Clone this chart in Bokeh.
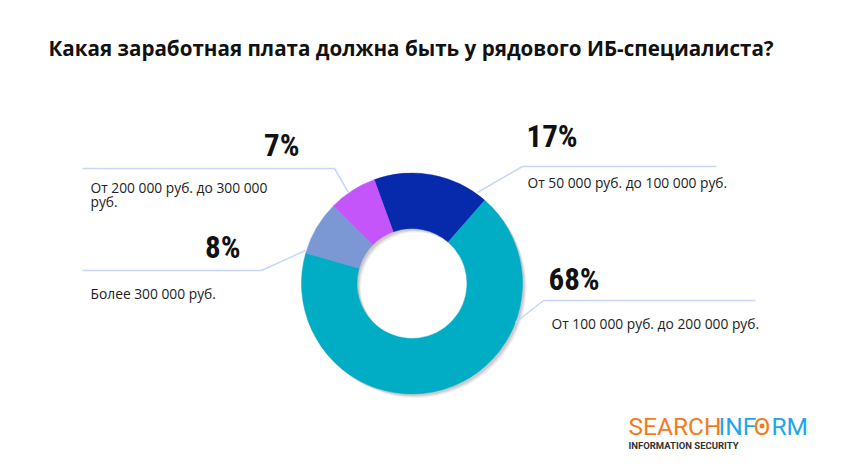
import numpy as np
from bokeh.models import ColumnDataSource, Label, Range1d
from bokeh.plotting import figure
from bokeh.embed import file_html
from bokeh.resources import INLINE

# survey data
categories = [
    "От 50 000 руб. до 100 000 руб.",
    "От 100 000 руб. до 200 000 руб.",
    "Более 300 000 руб.",
    "От 200 000 руб. до 300 000 руб.",
]
shares = [17, 68, 8, 7]
pct_labels = ["17%", "68%", "8%", "7%"]
colors = ["#0729ab", "#00adc4", "#7b97d4", "#c455fb"]

W, H = 845, 470


def py(y):
    # pixel row from the top -> data y
    return H - y


# wedge angles, clockwise from 110 degrees
ends = 110 - np.cumsum(shares) * 3.6
starts = ends + np.array(shares) * 3.6
src = ColumnDataSource(data=dict(
    category=categories,
    share=shares,
    start=np.radians(starts),
    end=np.radians(ends),
    color=colors,
))

p = figure(width=W, height=H, x_range=Range1d(0, W), y_range=Range1d(0, H),
           toolbar_location=None, output_backend="svg", min_border=0,
           x_axis_location=None, y_axis_location=None)
p.grid.visible = False
p.outline_line_color = None
p.background_fill_color = "white"

cx, cy = 411.5, py(283)
r_in, r_out = 55, 110.5

# soft drop shadow
for off, a in [(4, 0.05), (3, 0.07), (2, 0.09)]:
    p.annulus(x=cx + off, y=cy - off, inner_radius=r_in, outer_radius=r_out,
              fill_color="black", fill_alpha=a, line_color=None)

p.annular_wedge(x=cx, y=cy, inner_radius=r_in, outer_radius=r_out,
                start_angle="start", end_angle="end", direction="clock",
                fill_color="color", line_color="color", line_width=0.5, source=src)

# leader lines
line_col = "#c8d6f8"
leaders = [
    ([477, 522, 716], [192, 166, 166]),
    ([515, 543, 755], [322, 300, 300]),
    ([305, 261, 82], [250, 270, 270]),
    ([348, 334, 82], [192, 168, 168]),
]
for xs, ys in leaders:
    p.line(xs, [py(y) for y in ys], line_color=line_col, line_width=1.5)

pct_font = "Roboto Condensed, DejaVu Sans Condensed, Roboto"
pct_pos = [(526, 135.5, "left"), (548, 278.5, "left"), (240, 247, "right"), (299, 144.5, "right")]
for lab, (x, y, al) in zip(pct_labels, pct_pos):
    p.add_layout(Label(x=x, y=py(y), text=lab, text_font=pct_font, text_font_style="bold",
                       text_font_size="31px", text_color="#111111", text_align=al,
                       text_baseline="middle"))

cat_font = "Open Sans"
cat_lines = [
    (categories[0], 527, 182),
    (categories[1], 551, 323),
    (categories[2], 90, 293),
    ("От 200 000 руб. до 300 000", 90, 187),
    ("руб.", 90, 201),
]
for t, x, y in cat_lines:
    p.add_layout(Label(x=x, y=py(y), text=t, text_font=cat_font, text_font_size="13.8px",
                       text_color="#222222", text_baseline="middle"))

p.add_layout(Label(x=48, y=py(47), text="Какая заработная плата должна быть у рядового ИБ-специалиста?",
                   text_font="Open Sans", text_font_style="bold", text_font_size="20.6px",
                   text_color="#111111", text_baseline="middle"))

# logo
orange, blue = "#f47a20", "#1ea6ec"
for t, x, c in [("SEARCH", 628, orange), ("INF", 718, blue), ("O", 753, orange), ("RM", 771, blue)]:
    p.add_layout(Label(x=x, y=py(426), text=t, text_font="Roboto", text_font_size="24.5px",
                       text_color=c, text_baseline="middle"))
p.scatter(x=[761.5], y=[py(425.5)], size=5, fill_color=orange, line_color=None)
p.add_layout(Label(x=628, y=py(445), text="INFORMATION SECURITY", text_font="Roboto",
                   text_font_style="bold", text_font_size="9.5px", text_color="#333333",
                   text_baseline="middle"))

open("out.html", "w").write(file_html(p, INLINE))
